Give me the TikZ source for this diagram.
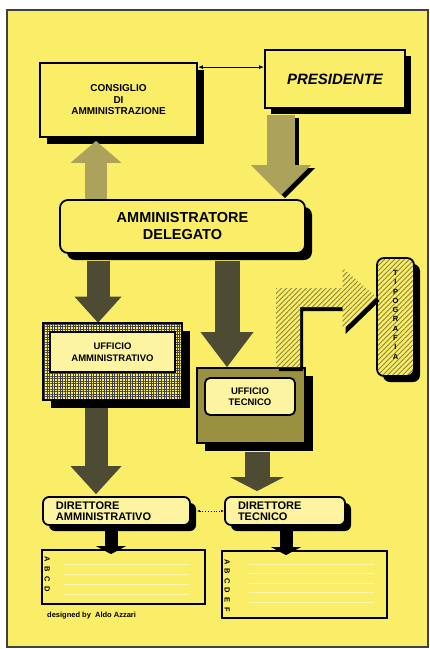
\documentclass[tikz,border=0pt]{standalone}
\usepackage{fontspec}
\setmainfont{Liberation Sans}
\usetikzlibrary{arrows.meta,shadows,patterns.meta,calc}

\definecolor{sheet}{RGB}{250,238,104}
\definecolor{paleyellow}{RGB}{252,244,160}
\definecolor{olivearrow}{RGB}{172,162,92}
\definecolor{darkarrow}{RGB}{78,75,52}
\definecolor{hatchline}{RGB}{140,130,60}
\definecolor{darkolive}{RGB}{125,116,52}

\begin{document}
\begin{tikzpicture}[x=1pt, y=-1pt,
  box/.style = {draw, line width=1.8pt, fill=sheet, inner sep=0pt,
    align=center, font=\bfseries\fontsize{10}{11.5}\selectfont},
  boxshadow/.style = {drop shadow={shadow xshift=#1, shadow yshift=-#1,
    opacity=1, fill=black}},
  fat/.style n args = {3}{line width=#1,
    -{Triangle[width=#2,length=#3,line width=0pt]}},
  letter/.style = {inner sep=0pt, font=\bfseries\fontsize{7.5}{7.5}\selectfont},
  hatch/.style = {pattern={Lines[angle=45,distance=3.5pt,line width=0.9pt]},
    pattern color=hatchline},
  faint/.style = {sheet!55!white, line width=0.6pt}]

\useasboundingbox (0,0) rectangle (430,649);
\fill[sheet] (7,10) rectangle (428,647);
\draw[black!75, line width=1.2pt] (7,10) rectangle (428,647);

% board and president
\node[box, boxshadow=7pt, minimum width=157pt, minimum height=74pt] (cda)
  at (118.5,100) {CONSIGLIO\\DI\\AMMINISTRAZIONE};
\node[box, boxshadow=6pt, minimum width=140pt, minimum height=58pt,
  font=\bfseries\itshape\fontsize{15}{15}\selectfont] (pres)
  at (335,79) {PRESIDENTE};
\node[box, boxshadow=7pt, rounded corners=8pt, minimum width=245pt,
  minimum height=53pt, font=\bfseries\fontsize{14.5}{17}\selectfont] (ad)
  at (182.5,226.5) {AMMINISTRATORE\\DELEGATO};

% offices
\node[box, boxshadow=8pt, preaction={fill=sheet},
  pattern={Hatch[distance=2.6pt,line width=0.6pt]}, pattern color=black!75,
  minimum width=139pt, minimum height=77pt] (ua) at (112.5,361.5) {};
\node[box, fill=paleyellow, minimum width=125pt, minimum height=40pt,
  font=\bfseries\fontsize{9.5}{11.5}\selectfont] (uain)
  at (112.5,352) {UFFICIO\\AMMINISTRATIVO};
\node[box, boxshadow=8pt, preaction={fill=darkolive},
  pattern={Dots[distance=2pt,radius=0.6pt]}, pattern color=sheet,
  minimum width=108pt, minimum height=75pt] (ut) at (251,405.5) {};
\node[box, fill=paleyellow, rounded corners=5pt, minimum width=90pt,
  minimum height=37pt, font=\bfseries\fontsize{9.5}{11.5}\selectfont] (utin)
  at (250,396.5) {UFFICIO\\TECNICO};
\node[box, boxshadow=6pt, rounded corners=7pt, preaction={fill=sheet}, hatch,
  minimum width=37pt, minimum height=118pt] (tip) at (395.5,317) {};
\foreach \l [count=\i] in {T,I,P,O,G,R,A,F,I,A}
  \path ($(tip.north)+(0,6+9.3*\i)$) node[letter] (tl\i) {\l};

% directors
\node[box, boxshadow=6pt, rounded corners=6pt, fill=paleyellow,
  minimum height=28pt, text width=121pt, inner xsep=13pt, align=left,
  font=\bfseries\fontsize{11}{11.5}\selectfont] (da)
  at (116.5,511) {DIRETTORE\\AMMINISTRATIVO};
\node[box, boxshadow=6pt, rounded corners=6pt, fill=paleyellow,
  minimum height=28pt, text width=94pt, inner xsep=13pt, align=left,
  font=\bfseries\fontsize{11}{11.5}\selectfont] (dt)
  at (285,511) {DIRETTORE\\TECNICO};

% task lists
\node[box, minimum width=163pt, minimum height=54pt] (abcd) at (123.5,577) {};
\node[box, minimum width=165pt, minimum height=67pt] (abcdef) at (304.5,584.5) {};
\foreach \k in {0,...,3}
  \draw[faint] ([xshift=23pt,yshift=-15pt-10*\k]abcd.north west) -- ++(125,0);
\foreach \k in {0,...,4}
  \draw[faint] ([xshift=28pt,yshift=-14pt-9.5*\k]abcdef.north west) -- ++(125,0);
\foreach \l [count=\i] in {A,B,C,D}
  \path ($(abcd.north west)+(6,10*\i)$) node[letter, rotate=-90] (la\i) {\l};
\foreach \l [count=\i] in {A,B,C,D,E,F}
  \path ($(abcdef.north west)+(6,2+9.6*\i)$) node[letter, rotate=-90] (lt\i) {\l};

\node[anchor=west, inner sep=0pt, font=\bfseries\fontsize{7.5}{8}\selectfont]
  (credit) at (47,616) {designed by\ \ Aldo Azzari};

% connectors
\draw[{Latex[length=5pt,width=4pt]}-{Latex[length=5pt,width=4pt]}, line width=1pt]
  ([yshift=-5pt]cda.north east) -- ([yshift=-5pt]cda.north east -| pres.west);
\draw[fat={22pt}{51pt}{22pt}, olivearrow]
  ([xshift=-22.5pt]cda.south |- ad.north) -- ([xshift=-22.5pt,yshift=-3pt]cda.south);
\draw[fat={28pt}{60pt}{30pt}, black, transform canvas={shift={(4pt,-3pt)}}]
  ([xshift=-54pt,yshift=-6pt]pres.south) -- ([xshift=-54pt,yshift=4pt]pres.south |- ad.north);
\draw[fat={28pt}{60pt}{30pt}, olivearrow]
  ([xshift=-54pt,yshift=-6pt]pres.south) -- ([xshift=-54pt,yshift=4pt]pres.south |- ad.north);
\draw[fat={23pt}{47pt}{26pt}, darkarrow]
  ([xshift=-14.5pt,yshift=-7pt]ua.north |- ad.south) -- ([xshift=-14.5pt]ua.north);
\draw[fat={25pt}{53pt}{35pt}, darkarrow]
  ([xshift=-24pt,yshift=-7pt]ut.north |- ad.south) -- ([xshift=-24pt]ut.north);
\draw[fat={23pt}{51pt}{28pt}, darkarrow]
  ([xshift=-20.5pt,yshift=-8pt]da.north |- ua.south) -- ([xshift=-20.5pt,yshift=2pt]da.north);
\draw[fat={25pt}{54pt}{14pt}, darkarrow]
  ([xshift=-28pt,yshift=-8pt]dt.north |- ut.south) -- ([xshift=-28pt,yshift=5pt]dt.north);
\draw[fat={13pt}{30pt}{8pt}, black]
  ([xshift=-12.5pt,yshift=-5pt]abcd.north |- da.south) -- ([xshift=-12.5pt,yshift=-5pt]abcd.north);
\draw[fat={13pt}{30pt}{8pt}, black]
  ([xshift=-18.5pt,yshift=-5pt]abcdef.north |- dt.south) -- ([xshift=-18.5pt,yshift=-5pt]abcdef.north);
\draw[dotted, line width=0.8pt, {Latex[length=3pt]}-{Latex[length=3pt]}]
  ([xshift=6pt]da.east) -- (dt.west);

% bent arrow to the print shop
\coordinate (tw) at ([yshift=20pt]tip.west);
\path[preaction={fill=black, transform canvas={shift={(3pt,-4pt)}}},
  preaction={fill=sheet}, hatch]
  ([xshift=25pt]ut.north) |- ($(tw)+(-34,-9)$) -- ($(tw)+(-34,-29)$) -- (tw)
  -- ($(tw)+(-34,33)$) -- ($(tw)+(-34,10)$) -| ([xshift=49pt]ut.north) -- cycle;

\end{tikzpicture}
\end{document}
